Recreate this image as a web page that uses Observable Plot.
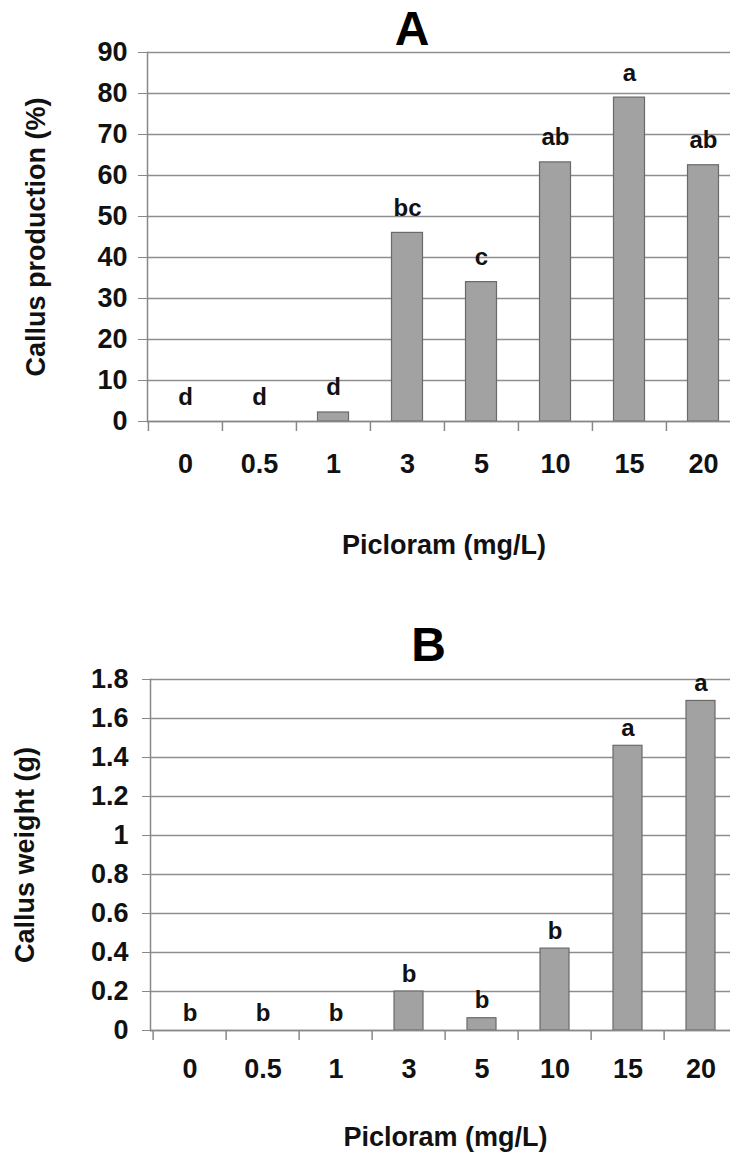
<!DOCTYPE html>
<html>
<head>
<meta charset="utf-8">
<script src="https://cdn.jsdelivr.net/npm/d3@7"></script>
<script src="https://cdn.jsdelivr.net/npm/@observablehq/plot@0.6"></script>
<style>
  html, body { margin: 0; padding: 0; background: #fff; }
  body { width: 730px; height: 1155px; overflow: hidden; position: relative; }
  .chart { position: absolute; left: 0; }
</style>
</head>
<body>
<div id="chartA" class="chart" style="top:0px"></div>
<div id="chartB" class="chart" style="top:600px"></div>
<script>
// ---- Data ----
const doses = ["0", "0.5", "1", "3", "5", "10", "15", "20"];
const xLabel = "Picloram (mg/L)";

const titleA = "A";
const yLabelA = "Callus production (%)";
const productionValues = [0, 0, 2.2, 46, 34, 63.2, 79, 62.5];
const productionLetters = ["d", "d", "d", "bc", "c", "ab", "a", "ab"];
const productionTicks = [0, 10, 20, 30, 40, 50, 60, 70, 80, 90];

const titleB = "B";
const yLabelB = "Callus weight (g)";
const weightValues = [0, 0, 0, 0.2, 0.063, 0.42, 1.46, 1.69];
const weightLetters = ["b", "b", "b", "b", "b", "b", "a", "a"];
const weightTicks = [0, 0.2, 0.4, 0.6, 0.8, 1, 1.2, 1.4, 1.6, 1.8];

// ---- Chart builder ----
const FONT = "'Liberation Sans', Arial, Helvetica, sans-serif";
const INK = "#111";
const GRID = "#8e8e8e";

function makeChart(cfg) {
  const data = doses.map((d, i) => ({dose: d, value: cfg.values[i], letter: cfg.letters[i]}));
  const width = 740;
  const step = (width - cfg.marginLeft) / doses.length;
  return Plot.plot({
    width,
    height: cfg.height,
    marginTop: cfg.marginTop,
    marginBottom: cfg.marginBottom,
    marginLeft: cfg.marginLeft,
    marginRight: 0,
    style: {fontFamily: FONT, maxWidth: "none", background: "#fff", color: INK},
    x: {type: "band", domain: doses, padding: 0, label: null},
    y: {domain: [0, cfg.ticks[cfg.ticks.length - 1]], label: null},
    marks: [
      Plot.ruleY(cfg.ticks, {stroke: GRID, strokeWidth: 1.6}),
      Plot.frame({anchor: "left", stroke: "#888", strokeWidth: 1.5}),
      Plot.barY(data, {
        x: "dose", y: "value",
        fill: "#a2a2a2", stroke: "#6a6a6a", strokeWidth: 1.2,
        insetLeft: cfg.inset, insetRight: cfg.inset
      }),
      Plot.ruleY([0], {stroke: "#888", strokeWidth: 1.6}),
      Plot.ruleX(doses, {
        x: d => d, y1: 0, y2: 0, insetBottom: -10,
        dx: -step / 2, stroke: "#888", strokeWidth: 1.5
      }),
      Plot.text(data, {
        x: "dose", y: "value", text: "letter",
        lineAnchor: "bottom", dy: cfg.letterDy,
        fontSize: 24, fontWeight: "bold", fill: INK
      }),
      Plot.axisY({
        ticks: cfg.ticks, tickSize: cfg.tickSize, tickPadding: cfg.tickPadding,
        fontSize: 27, fontWeight: "bold", stroke: "#888", fill: INK,
        tickFormat: d => String(d), label: null
      }),
      Plot.axisX({
        tickSize: 0, tickPadding: cfg.xTickPadding,
        fontSize: 27, fontWeight: "bold", fill: INK, label: null
      }),
      Plot.text([cfg.yLabel], {
        text: d => d, frameAnchor: "left", rotate: -90, dx: cfg.yLabelDx,
        textAnchor: "middle", lineAnchor: "middle",
        fontSize: 27, fontWeight: "bold", fill: INK
      }),
      Plot.text([xLabel], {
        text: d => d, frameAnchor: "bottom", dy: cfg.xLabelDy,
        textAnchor: "middle", lineAnchor: "middle",
        fontSize: 27, fontWeight: "bold", fill: INK
      }),
      Plot.text([cfg.title], {
        text: d => d, frameAnchor: "top", dx: cfg.titleDx, dy: cfg.titleDy,
        textAnchor: "middle", lineAnchor: "middle",
        fontSize: 48, fontWeight: "bold", fill: "#000"
      })
    ]
  });
}

document.getElementById("chartA").append(makeChart({
  values: productionValues, letters: productionLetters, ticks: productionTicks,
  yLabel: yLabelA, title: titleA,
  height: 575, marginTop: 52, marginBottom: 154, marginLeft: 147,
  inset: 21.5, letterDy: -17, tickSize: 9, tickPadding: 11, xTickPadding: 32,
  yLabelDx: -111, xLabelDy: 124, titleDx: -32, titleDy: -23
}));

document.getElementById("chartB").append(makeChart({
  values: weightValues, letters: weightLetters, ticks: weightTicks,
  yLabel: yLabelB, title: titleB,
  height: 555, marginTop: 79, marginBottom: 125, marginLeft: 150,
  inset: 22, letterDy: -10, tickSize: 8, tickPadding: 14, xTickPadding: 28,
  yLabelDx: -125, xLabelDy: 107, titleDx: -17, titleDy: -34
}));
</script>
</body>
</html>
